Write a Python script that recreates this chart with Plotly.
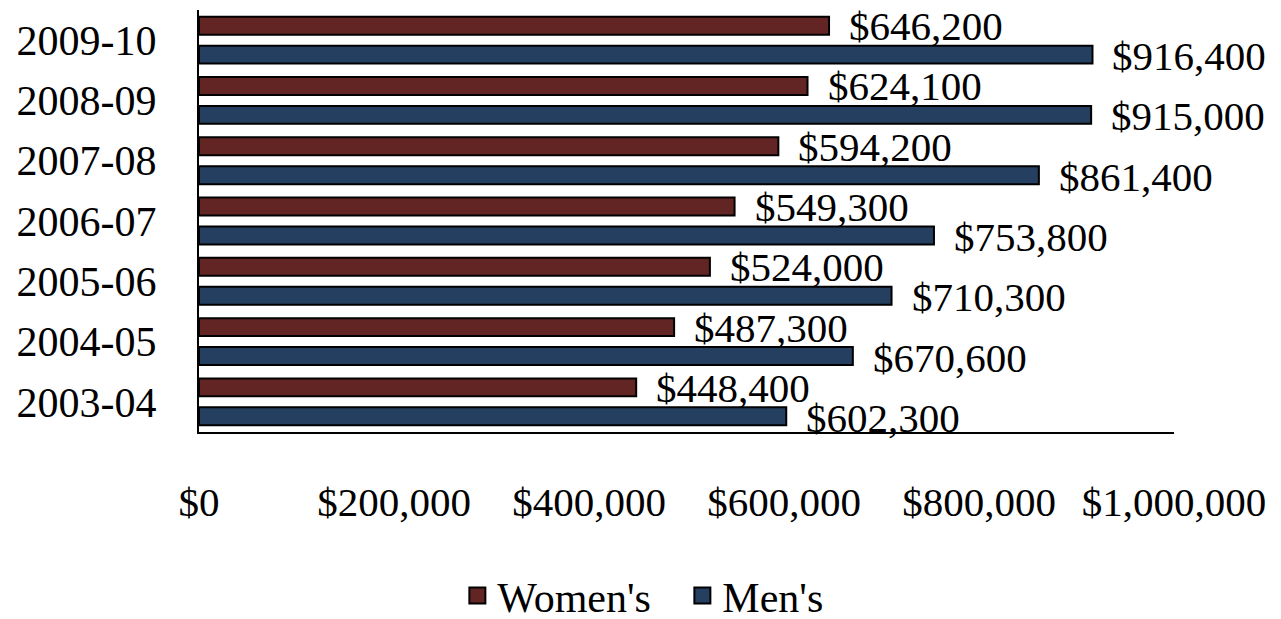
import plotly.graph_objects as go

# seasons, bottom to top
seasons = ["2003-04", "2004-05", "2005-06", "2006-07", "2007-08", "2008-09", "2009-10"]
womens = [448400, 487300, 524000, 549300, 594200, 624100, 646200]
mens = [602300, 670600, 710300, 753800, 861400, 915000, 916400]
x_ticks = [0, 200000, 400000, 600000, 800000, 1000000]
x_tick_text = ["$0", "$200,000", "$400,000", "$600,000", "$800,000", "$1,000,000"]

FONT = "Liberation Serif"
WOMEN_COLOR = "#632523"
MEN_COLOR = "#243F60"

fig = go.Figure()
# men first so women sit on top inside each group
fig.add_trace(go.Bar(y=seasons, x=mens, name="Men's", orientation="h", showlegend=False,
                     marker=dict(color=MEN_COLOR, line=dict(color="black", width=2))))
fig.add_trace(go.Bar(y=seasons, x=womens, name="Women's", orientation="h", showlegend=False,
                     marker=dict(color=WOMEN_COLOR, line=dict(color="black", width=2))))

# legend-only entries, so the swatches can be bigger than the bar ones
for name, color in [("Women's", WOMEN_COLOR), ("Men's", MEN_COLOR)]:
    fig.add_trace(go.Scatter(x=[None], y=[None], mode="markers", name=name,
                             marker=dict(symbol="square", size=16, color=color,
                                         line=dict(color="black", width=2))))

annotations = []
for s, w, m in zip(seasons, womens, mens):
    annotations.append(dict(x=w, y=s, text=f"${w:,}", showarrow=False, xanchor="left",
                            yanchor="middle", xshift=18, yshift=14, font=dict(size=41)))
    annotations.append(dict(x=m, y=s, text=f"${m:,}", showarrow=False, xanchor="left",
                            yanchor="middle", xshift=18, yshift=-16, font=dict(size=41)))

# page body adds an 8px margin, so the figure is 8px smaller than the window
fig.update_layout(
    barmode="group",
    bargap=0.04,
    bargroupgap=0.38,
    width=1273,
    height=611,
    margin=dict(l=191, r=107, t=2, b=187),
    plot_bgcolor="white",
    paper_bgcolor="white",
    font=dict(family=FONT, size=41, color="black"),
    annotations=annotations,
    showlegend=True,
    legend=dict(orientation="h", xref="container", x=0.353, xanchor="left",
                yref="container", y=0.038, yanchor="middle",
                font=dict(size=42), traceorder="normal", itemwidth=30,
                entrywidth=180, entrywidthmode="pixels"),
    xaxis=dict(range=[0, 1000000], tickvals=x_ticks, ticktext=x_tick_text,
               showgrid=False, zeroline=False, showline=True, linecolor="black",
               linewidth=2, ticks="", ticklabelstandoff=33, automargin=False),
    yaxis=dict(type="category", range=[-0.5, 6.5], showgrid=False, zeroline=False,
               showline=True, linecolor="black", linewidth=2, ticks="",
               ticklabelstandoff=32, automargin=False, tickfont=dict(size=42)),
)

fig.write_html("out.html")
